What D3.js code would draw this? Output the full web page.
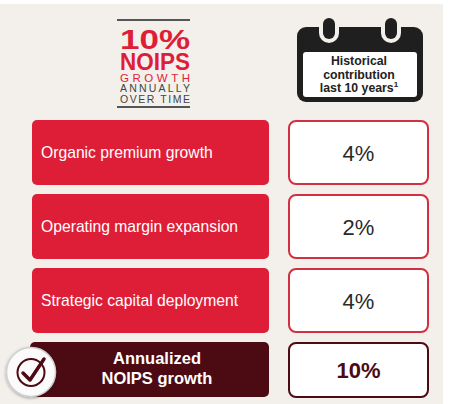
<!DOCTYPE html>
<html><head><meta charset="utf-8">
<script src="https://cdn.jsdelivr.net/npm/d3@7"></script>
<style>
html,body{margin:0;padding:0;background:#fff;}
svg{display:block;}
text{font-family:"Liberation Sans",Arial,sans-serif;}
</style></head>
<body>
<svg id="c" width="460" height="404"></svg>
<script>
const categories = ["Organic premium growth", "Operating margin expansion", "Strategic capital deployment"];
const values = [4, 2, 4];
const totalLabel = ["Annualized", "NOIPS growth"];
const totalValue = 10;
const headerLines = ["Historical", "contribution", "last 10 years"];
const titleLines = ["10%", "NOIPS", "GROWTH", "ANNUALLY", "OVER TIME"];

const RED = "#de1e37", MAROON = "#4c0a13", BG = "#f3f0eb";
const svg = d3.select("#c");
svg.append("rect").attr("x",0).attr("y",4).attr("width",443).attr("height",400).attr("fill",BG);

const rows = categories.concat(["total"]);
const y = d3.scaleBand().domain(rows).range([120, 407]).paddingInner(9/74).paddingOuter(0);
const xL = d3.scaleLinear().domain([0,1]).range([32, 269]);
const xR = d3.scaleLinear().domain([0,1]).range([289, 428]);
const fmt = v => d3.format("d")(v) + "%";

// category rows
const g = svg.selectAll("g.row").data(categories.map((c,i)=>({c, v: values[i]}))).join("g").attr("class","row");
g.append("rect").attr("x", xL(0)).attr("y", d=>y(d.c)).attr("width", xL(1)-xL(0)).attr("height", y.bandwidth())
  .attr("rx",5).attr("fill",RED);
g.append("text").attr("x", xL(0)+9).attr("y", d=>y(d.c)+y.bandwidth()/2+5.5)
  .attr("fill","#fff").attr("font-size",15.7).text(d=>d.c);
g.append("rect").attr("x", xR(0)).attr("y", d=>y(d.c)+1).attr("width", xR(1)-xR(0)).attr("height", y.bandwidth()-2)
  .attr("rx",7).attr("fill","#fff").attr("stroke","#d0303f").attr("stroke-width",2);
g.append("text").attr("x", (xR(0)+xR(1))/2).attr("y", d=>y(d.c)+y.bandwidth()/2+8)
  .attr("text-anchor","middle").attr("fill","#2a2a2a").attr("font-size",22).text(d=>fmt(d.v));

// total row
const ty = y("total"), th = 55;
svg.append("rect").attr("x", 30).attr("y", ty).attr("width", xL(1)-30).attr("height", th).attr("rx",5).attr("fill",MAROON);
totalLabel.forEach((t,i)=>{
  svg.append("text").attr("x",157).attr("y", ty+22+i*20).attr("text-anchor","middle")
    .attr("fill","#fff").attr("font-weight","bold").attr("font-size",16.5).text(t);
});
svg.append("rect").attr("x", xR(0)).attr("y", ty+1).attr("width", xR(1)-xR(0)).attr("height", th-1)
  .attr("rx",7).attr("fill","#fff").attr("stroke",MAROON).attr("stroke-width",2);
svg.append("text").attr("x",(xR(0)+xR(1))/2).attr("y", ty+th/2+8).attr("text-anchor","middle")
  .attr("fill",MAROON).attr("font-weight","bold").attr("font-size",22).text(fmt(totalValue));

// check badge
const defs = svg.append("defs");
const f = defs.append("filter").attr("id","sh").attr("x","-30%").attr("y","-30%").attr("width","160%").attr("height","160%");
f.append("feDropShadow").attr("dx",0).attr("dy",1).attr("stdDeviation",1.5).attr("flood-color","#000").attr("flood-opacity",0.35);
const cx = 31, cy = ty + 30;
svg.append("circle").attr("cx",cx).attr("cy",cy).attr("r",24.5).attr("fill","#fbfbfb").attr("stroke","#cfcfcf").attr("stroke-width",1.5).attr("filter","url(#sh)");
svg.append("circle").attr("cx",cx).attr("cy",cy+0.5).attr("r",13.5).attr("fill","none").attr("stroke",MAROON).attr("stroke-width",2);
svg.append("path").attr("d",`M${cx-8},${cy+1} L${cx-1},${cy+8} L${cx+13},${cy-13}`)
  .attr("fill","none").attr("stroke",MAROON).attr("stroke-width",3.5).attr("stroke-linecap","round").attr("stroke-linejoin","round");

// title block (one stacked text block)
const tg = svg.append("g");
tg.append("line").attr("x1",117).attr("x2",190).attr("y1",20).attr("y2",20).attr("stroke","#555").attr("stroke-width",2);
tg.append("line").attr("x1",117).attr("x2",190).attr("y1",107).attr("y2",107).attr("stroke","#555").attr("stroke-width",2);
const tspec = [
  {y:49, size:28.5, w:"bold", c:RED, adj:"spacingAndGlyphs"},
  {y:70, size:23.5, w:"bold", c:RED, adj:"spacingAndGlyphs"},
  {y:81.5, size:11.5, w:"normal", c:RED, adj:"spacing"},
  {y:92, size:10.5, w:"normal", c:"#444", adj:"spacing"},
  {y:103, size:10.5, w:"normal", c:"#444", adj:"spacing"}
];
const block = tg.append("text").attr("x",120).attr("y",49);
titleLines.forEach((t,i)=>{
  const s = tspec[i];
  block.append("tspan").attr("x",120).attr("y",s.y).attr("font-size",s.size).attr("font-weight",s.w)
    .attr("fill",s.c).attr("textLength",70).attr("lengthAdjust",s.adj).text(t);
});

// calendar
const cal = svg.append("g");
cal.append("rect").attr("x",297).attr("y",27).attr("width",126).attr("height",75).attr("rx",9).attr("fill","#1f1f1f");
[329, 391].forEach(px=>{
  cal.append("rect").attr("x",px-10).attr("y",14).attr("width",20).attr("height",29).attr("rx",10).attr("fill",BG);
  cal.append("rect").attr("x",px-6).attr("y",18).attr("width",12).attr("height",21).attr("rx",6).attr("fill","#1f1f1f");
});
cal.append("rect").attr("x",303).attr("y",52).attr("width",114).attr("height",45).attr("rx",3).attr("fill","#fff");
headerLines.forEach((t,i)=>{
  const tx = cal.append("text").attr("x",359).attr("y",65+i*13.5).attr("text-anchor","middle")
    .attr("font-size",12.3).attr("font-weight","bold").attr("fill","#222").text(t);
  if(i===2) tx.append("tspan").attr("font-size",8).attr("dy",-5).text("1");
});
</script>
</body></html>
